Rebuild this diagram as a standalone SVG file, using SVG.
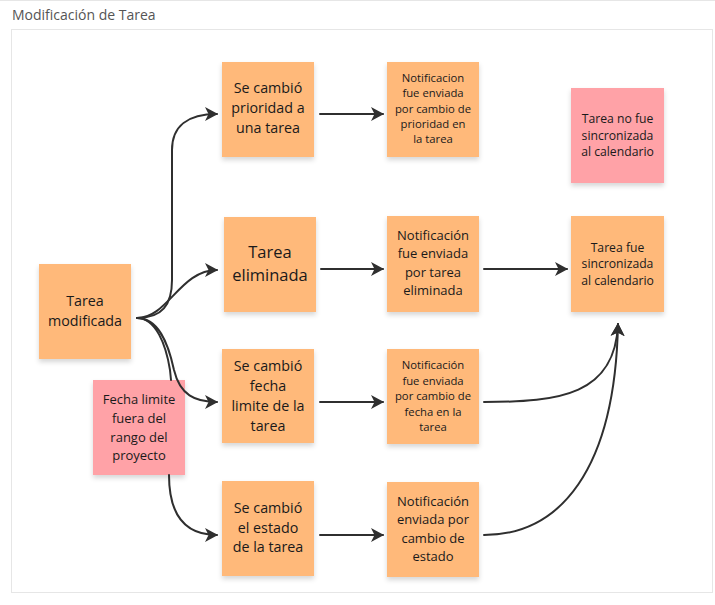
<svg xmlns="http://www.w3.org/2000/svg" width="715" height="605" viewBox="0 0 715 605">
  <defs>
    <filter id="sh" x="-20%" y="-20%" width="140%" height="150%">
      <feDropShadow dx="0" dy="3" stdDeviation="2.5" flood-color="#000" flood-opacity="0.16"/>
    </filter>
    <marker id="arr" viewBox="0 0 13 14" markerWidth="13" markerHeight="14" refX="12" refY="7" orient="auto" markerUnits="userSpaceOnUse">
      <path d="M0,0 L13,7 L0,14 L3.5,7 Z" fill="#2f2f2f"/>
    </marker>
  </defs>
  <style>
    .orange { fill: #ffb97a; filter: url(#sh); }
    .pink { fill: #ffa2a7; filter: url(#sh); }
    text { font-family: "Open Sans", "Noto Sans", "DejaVu Sans", sans-serif; fill: #1a1a1a; text-anchor: middle; }
    .conn { fill: none; stroke: #2f2f2f; stroke-width: 2; stroke-linecap: round; }
    .f143 { font-size: 14.3px; }
    .f165 { font-size: 16.5px; }
    .f13 { font-size: 13px; }
    .f113 { font-size: 11.3px; }
    .f122 { font-size: 12.2px; }
  </style>
  <rect x="0" y="0" width="715" height="605" fill="#ffffff"/>
  <line x1="0" y1="0.5" x2="715" y2="0.5" stroke="#e6e6e6"/>
  <text x="12" y="19.5" style="font-size:14px; fill:#555; text-anchor:start">Modificación de Tarea</text>
  <rect x="11.5" y="29.5" width="701" height="563" fill="#ffffff" stroke="#e6e6e6"/>

  <g id="n-tarea-modificada">
    <rect class="orange" x="39" y="264" width="92" height="95"/>
    <text class="f143" x="85"><tspan x="85" y="306">Tarea</tspan><tspan x="85" y="326">modificada</tspan></text>
  </g>
  <g id="n-cambio-prioridad">
    <rect class="orange" x="222" y="62" width="92" height="95"/>
    <text class="f143"><tspan x="268" y="93">Se cambió</tspan><tspan x="268" y="113">prioridad a</tspan><tspan x="268" y="133">una tarea</tspan></text>
  </g>
  <g id="n-tarea-eliminada">
    <rect class="orange" x="224" y="217" width="92" height="95"/>
    <text class="f165"><tspan x="270" y="258">Tarea</tspan><tspan x="270" y="281">eliminada</tspan></text>
  </g>
  <g id="n-cambio-fecha">
    <rect class="orange" x="222" y="349" width="92" height="94"/>
    <text class="f143"><tspan x="268" y="371">Se cambió</tspan><tspan x="268" y="391">fecha</tspan><tspan x="268" y="411">limite de la</tspan><tspan x="268" y="431">tarea</tspan></text>
  </g>
  <g id="n-cambio-estado">
    <rect class="orange" x="222" y="481" width="92" height="95"/>
    <text class="f143"><tspan x="268" y="513">Se cambió</tspan><tspan x="268" y="533">el estado</tspan><tspan x="268" y="552">de la tarea</tspan></text>
  </g>
  <g id="n-notif-prioridad">
    <rect class="orange" x="387" y="62" width="92" height="95"/>
    <text class="f113"><tspan x="433" y="82">Notificacion</tspan><tspan x="433" y="97">fue enviada</tspan><tspan x="433" y="113">por cambio de</tspan><tspan x="433" y="128">prioridad en</tspan><tspan x="433" y="143">la tarea</tspan></text>
  </g>
  <g id="n-notif-eliminada">
    <rect class="orange" x="387" y="216" width="92" height="96"/>
    <text class="f13"><tspan x="433" y="240">Notificación</tspan><tspan x="433" y="258">fue enviada</tspan><tspan x="433" y="277">por tarea</tspan><tspan x="433" y="295">eliminada</tspan></text>
  </g>
  <g id="n-notif-fecha">
    <rect class="orange" x="387" y="349" width="92" height="95"/>
    <text class="f113"><tspan x="433" y="369">Notificación</tspan><tspan x="433" y="385">fue enviada</tspan><tspan x="433" y="400">por cambio de</tspan><tspan x="433" y="416">fecha en la</tspan><tspan x="433" y="431">tarea</tspan></text>
  </g>
  <g id="n-notif-estado">
    <rect class="orange" x="387" y="482" width="92" height="95"/>
    <text class="f13"><tspan x="433" y="506">Notificación</tspan><tspan x="433" y="524">enviada por</tspan><tspan x="433" y="543">cambio de</tspan><tspan x="433" y="561">estado</tspan></text>
  </g>
  <g id="n-no-sincronizada">
    <rect class="pink" x="571" y="88" width="93" height="95"/>
    <text class="f122"><tspan x="617.5" y="123">Tarea no fue</tspan><tspan x="617.5" y="139.5">sincronizada</tspan><tspan x="617.5" y="156">al calendario</tspan></text>
  </g>
  <g id="n-sincronizada">
    <rect class="orange" x="571" y="216" width="93" height="96"/>
    <text class="f122"><tspan x="617.5" y="251.5">Tarea fue</tspan><tspan x="617.5" y="268">sincronizada</tspan><tspan x="617.5" y="284.5">al calendario</tspan></text>
  </g>
  <g id="n-fecha-fuera">
    <rect class="pink" x="93" y="380" width="92" height="95"/>
    <text class="f13"><tspan x="139" y="404">Fecha limite</tspan><tspan x="139" y="423">fuera del</tspan><tspan x="139" y="442">rango del</tspan><tspan x="139" y="460">proyecto</tspan></text>
  </g>

  <g id="connectors">
    <path class="conn" marker-end="url(#arr)" d="M137,318 C162,318 172,305 172,280 L172,150 C172,126 188,114 217,114"/>
    <path class="conn" marker-end="url(#arr)" d="M137,318 C168,318 180,270 217,270"/>
    <path class="conn" marker-end="url(#arr)" d="M137,318 C158,318 168,342 174,370 C180,395 195,402 217,402"/>
    <path class="conn" d="M137,318 C156,318 166,345 170,370 L171,380"/>
    <path class="conn" marker-end="url(#arr)" d="M169,475 C169,515 185,535 217,535"/>
    <path class="conn" marker-end="url(#arr)" d="M320,114 L383,114"/>
    <path class="conn" marker-end="url(#arr)" d="M321,269 L383,269"/>
    <path class="conn" marker-end="url(#arr)" d="M484,269 L567,269"/>
    <path class="conn" marker-end="url(#arr)" d="M320,402 L383,402"/>
    <path class="conn" marker-end="url(#arr)" d="M320,535 L383,535"/>
    <path class="conn" marker-end="url(#arr)" d="M484,402 C560,402 615,395 618,324"/>
    <path class="conn" marker-end="url(#arr)" d="M484,535 C560,535 615,470 618,324"/>
  </g>
</svg>
